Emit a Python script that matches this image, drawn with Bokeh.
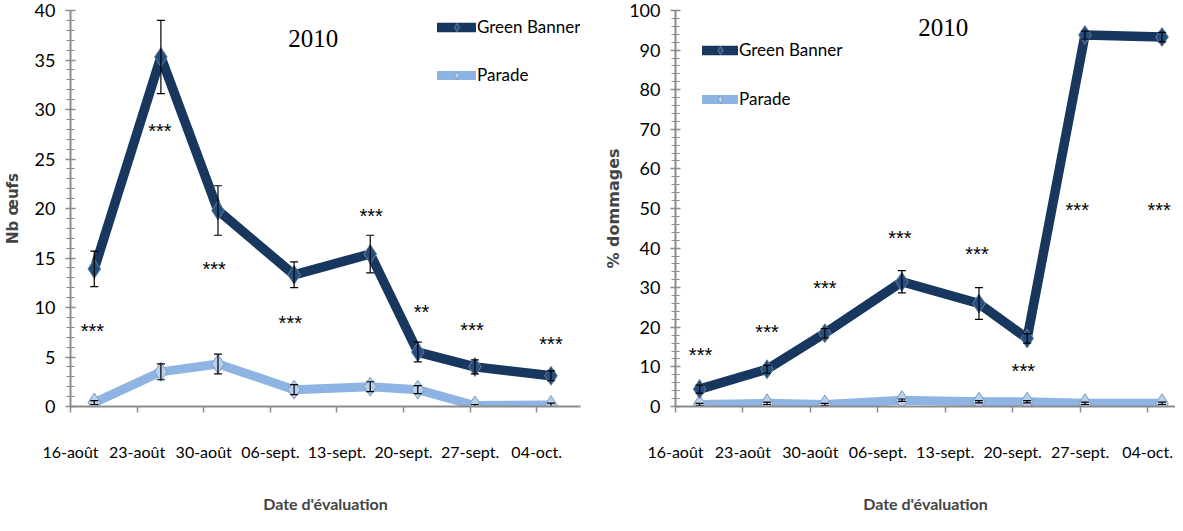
import pandas as pd
from bokeh.plotting import figure
from bokeh.models import (ColumnDataSource, Whisker, TeeHead, FixedTicker,
                          SingleIntervalTicker, Legend, LegendItem)
from bokeh.layouts import row
from bokeh.embed import file_html
from bokeh.resources import INLINE
from bokeh.core.properties import value

# ---------------- data ----------------
eval_dates = ["2010-08-18", "2010-08-25", "2010-08-31", "2010-09-08",
              "2010-09-16", "2010-09-21", "2010-09-27", "2010-10-05"]
tick_dates = ["2010-08-16", "2010-08-23", "2010-08-30", "2010-09-06",
              "2010-09-13", "2010-09-20", "2010-09-27", "2010-10-04"]
tick_labels = ["16-août", "23-août", "30-août", "06-sept.",
               "13-sept.", "20-sept.", "27-sept.", "04-oct."]

eggs_gb = [13.9, 35.3, 19.8, 13.3, 15.4, 5.5, 4.0, 3.1]
eggs_gb_err = [1.8, 3.7, 2.5, 1.3, 1.9, 1.0, 0.7, 0.5]
eggs_par = [0.4, 3.5, 4.3, 1.7, 2.0, 1.7, 0.1, 0.15]
eggs_par_err = [0.2, 0.8, 1.0, 0.5, 0.5, 0.4, 0.1, 0.2]
eggs_sig = ["***", "***", "***", "***", "***", "**", "***", "***"]
eggs_sig_y = [8.0, 28.2, 14.3, 8.8, 19.6, 9.9, 8.1, 6.7]
eggs_sig_shift = [-0.2, -0.1, -0.4, -0.4, 0.1, 0.4, -0.3, 0.0]

dmg_gb = [4.4, 9.4, 18.5, 31.5, 26.0, 17.2, 93.8, 93.3]
dmg_gb_err = [1.0, 1.0, 1.2, 2.8, 4.0, 1.2, 1.0, 1.2]
dmg_par = [0.5, 0.8, 0.5, 1.6, 1.2, 1.2, 0.8, 0.8]
dmg_par_err = [0.3, 0.3, 0.3, 0.3, 0.3, 0.3, 0.3, 0.3]
dmg_sig = ["***", "***", "***", "***", "***", "***", "***", "***"]
dmg_sig_y = [14.0, 19.7, 31.0, 43.6, 39.4, 10.1, 50.7, 50.7]
dmg_sig_shift = [0.1, 0.0, 0.0, -0.2, -0.2, -0.4, -0.8, -0.3]

series_names = ["Green Banner", "Parade"]
year_label = "2010"

# ---------------- helpers ----------------
origin = pd.Timestamp(tick_dates[0])
# Excel date axis: each day is a slot, points sit in its middle
day_pos = [(pd.Timestamp(d) - origin).days + 0.5 for d in eval_dates]
tick_pos = [(pd.Timestamp(d) - origin).days for d in tick_dates]

GB_COL = "#17375E"
GB_FILL = "#254E80"
PAR_COL = "#8DB4E2"
PAR_FILL = "#B7D0EE"
AXIS_COL = "#8C8C8C"
NARROW = "Lato"


def make_chart(width, min_left, min_right, x_end, y_end, y_interval,
               gb, gb_err, par, par_err, sig, sig_y, sig_shift,
               ylabel, ylabel_font, ylabel_standoff, title_xy, legend_loc,
               glyph_w, leg_spacing):
    p = figure(width=width, height=515, output_backend="svg",
               toolbar_location=None, x_range=(0, x_end), y_range=(0, y_end),
               min_border_left=min_left, min_border_right=min_right,
               min_border_top=10, min_border_bottom=102)
    p.outline_line_color = None
    p.xgrid.visible = False
    p.ygrid.visible = False
    p.background_fill_color = "white"
    p.border_fill_color = "white"

    # x axis
    xa = p.xaxis[0]
    xa.ticker = FixedTicker(ticks=tick_pos)
    xa.major_label_overrides = {t: l for t, l in zip(tick_pos, tick_labels)}
    xa.axis_line_color = AXIS_COL
    xa.axis_line_width = 2
    xa.major_tick_line_color = AXIS_COL
    xa.major_tick_line_width = 1.5
    xa.major_tick_in = 0
    xa.major_tick_out = 6
    xa.minor_tick_line_color = None
    xa.major_label_text_font = NARROW
    xa.major_label_text_font_size = "16px"
    xa.major_label_text_color = "black"
    xa.major_label_standoff = 29
    xa.axis_label = "Date d'évaluation"
    xa.axis_label_text_font = NARROW
    xa.axis_label_text_font_style = "bold"
    xa.axis_label_text_font_size = "16px"
    xa.axis_label_standoff = 30

    # y axis
    ya = p.yaxis[0]
    ya.ticker = SingleIntervalTicker(interval=y_interval, num_minor_ticks=5)
    ya.axis_line_color = AXIS_COL
    ya.axis_line_width = 2
    ya.major_tick_line_color = AXIS_COL
    ya.major_tick_line_width = 1.5
    ya.major_tick_in = 5
    ya.major_tick_out = 5
    ya.minor_tick_line_color = AXIS_COL
    ya.minor_tick_line_width = 1.2
    ya.minor_tick_in = 4
    ya.minor_tick_out = 4
    ya.major_label_text_font = NARROW
    ya.major_label_text_font_size = "18px"
    ya.major_label_text_color = "black"
    ya.major_label_standoff = 10
    ya.axis_label = ylabel
    ya.axis_label_text_font = "DejaVu Sans"
    ya.axis_label_text_font_style = "bold"
    ya.axis_label_text_font_size = ylabel_font
    ya.axis_label_standoff = ylabel_standoff

    src = ColumnDataSource(dict(
        x=day_pos, gb=gb, par=par,
        gb_lo=[v - e for v, e in zip(gb, gb_err)],
        gb_hi=[v + e for v, e in zip(gb, gb_err)],
        par_lo=[max(v - e, 0) for v, e in zip(par, par_err)],
        par_hi=[v + e for v, e in zip(par, par_err)],
    ))

    par_line = p.line("x", "par", source=src, line_color=PAR_COL, line_width=9,
                      line_join="round", line_cap="round")
    gb_line = p.line("x", "gb", source=src, line_color=GB_COL, line_width=9.5,
                     line_join="round", line_cap="round")

    for lo, hi in (("par_lo", "par_hi"), ("gb_lo", "gb_hi")):
        w = Whisker(source=src, base="x", lower=lo, upper=hi,
                    line_color="black", line_width=1.2, level="glyph",
                    upper_head=TeeHead(size=8, line_color="black", line_width=1.2),
                    lower_head=TeeHead(size=8, line_color="black", line_width=1.2))
        p.add_layout(w)

    par_pts = p.scatter("x", "par", source=src, marker="diamond", size=19,
                        fill_color=PAR_FILL, line_color="#7F99B8", line_width=1)
    gb_pts = p.scatter("x", "gb", source=src, marker="diamond", size=19,
                       fill_color=GB_FILL, line_color="#6F7F95", line_width=1)

    sig_src = ColumnDataSource(dict(
        x=[d + s for d, s in zip(day_pos, sig_shift)], y=sig_y, t=sig))
    p.text("x", "y", text="t", source=sig_src, text_align="center",
           text_baseline="middle", text_font=value("Liberation Sans"),
           text_font_size="20px", text_color="black", y_offset=4)

    p.text(x=[title_xy[0]], y=[title_xy[1]], text=[year_label],
           text_align="center", text_baseline="middle",
           text_font=value("Liberation Serif"), text_font_size="25px",
           text_color="black")

    legend = Legend(items=[
        LegendItem(label=series_names[0], renderers=[gb_line, gb_pts]),
        LegendItem(label=series_names[1], renderers=[par_line, par_pts]),
    ], location=legend_loc, orientation="vertical", glyph_width=glyph_w,
        glyph_height=20, label_height=20, label_standoff=1,
        spacing=leg_spacing, padding=0, margin=0, background_fill_alpha=0,
        border_line_color=None, label_text_font=NARROW,
        label_text_font_size="17px", label_text_color="black")
    p.add_layout(legend)
    return p


left = make_chart(590, 63, 10, 53.6, 40, 5,
                  eggs_gb, eggs_gb_err, eggs_par, eggs_par_err,
                  eggs_sig, eggs_sig_y, eggs_sig_shift,
                  "Nb œufs", "15px", 10, (25.5, 37.2), (367, 321), 39, 27)

right = make_chart(585, 85, 0, 51.9, 100, 10,
                   dmg_gb, dmg_gb_err, dmg_par, dmg_par_err,
                   dmg_sig, dmg_sig_y, dmg_sig_shift,
                   "% dommages", "16px", 3, (27.8, 95.8), (27, 297), 36, 28)

layout = row(left, right)
open("out.html", "w").write(file_html(layout, INLINE))
